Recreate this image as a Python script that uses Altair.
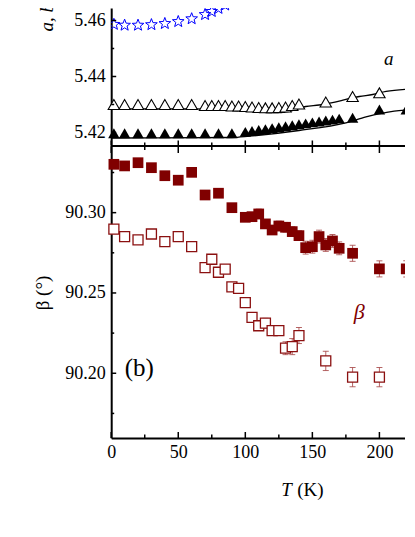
import math
import altair as alt
import pandas as pd

# ---------------- data ----------------
# top panel (lattice parameters)
T_STAR = [2, 10, 20, 30, 40, 50, 60, 70, 75, 80, 85, 90]
V_STAR = [5.4586, 5.4583, 5.4583, 5.4585, 5.4589, 5.4596, 5.4606, 5.4621, 5.4632, 5.4643, 5.4655, 5.4665]

T_OPEN_TRI = [2, 10, 20, 30, 40, 50, 60, 70, 75, 80, 85, 90, 95, 100, 105, 110, 115, 120, 125,
              130, 135, 140, 160, 180, 200]
V_OPEN_TRI = [5.4300, 5.4300, 5.4300, 5.4300, 5.4300, 5.4300, 5.4300, 5.42964, 5.42964, 5.42964,
              5.42964, 5.42946, 5.42946, 5.42929, 5.42911, 5.42893, 5.42882, 5.42882, 5.42893,
              5.42911, 5.42964, 5.43018, 5.43089, 5.43286, 5.43418]

T_FILL_TRI = [2, 10, 20, 30, 40, 50, 60, 70, 80, 90, 100, 105, 110, 115, 120, 125, 130, 135, 140,
              145, 150, 155, 160, 165, 170, 180, 200, 220]
V_FILL_TRI = [5.41975, 5.41975, 5.41975, 5.41975, 5.41975, 5.41975, 5.41975, 5.41975, 5.41975,
              5.41975, 5.42021, 5.42054, 5.42089, 5.42121, 5.42157, 5.42189, 5.42225, 5.42257,
              5.42293, 5.42325, 5.42361, 5.42393, 5.42429, 5.42461, 5.42496, 5.42525, 5.42821,
              5.42821]

T_FIT_OPEN = [0, 60, 90, 110, 125, 135, 145, 155, 165, 175, 185, 195, 205, 226]
V_FIT_OPEN = [5.42846, 5.42846, 5.42804, 5.42732, 5.42714, 5.42786, 5.42929, 5.42982, 5.43071,
              5.43179, 5.43286, 5.43357, 5.43471, 5.43561]

T_FIT_FILL = [0, 90, 103, 140, 175, 190, 211, 226]
V_FIT_FILL = [5.41804, 5.41821, 5.41868, 5.42071, 5.42346, 5.42554, 5.42761, 5.42821]

# bottom panel (beta angle)
T_SQ_FILL = [2, 10, 20, 30, 40, 50, 60, 70, 80, 90, 100, 105, 110, 115, 120, 125, 130, 135, 140,
             145, 150, 155, 160, 165, 170, 180, 200, 220]
V_SQ_FILL = [90.3301, 90.3291, 90.3311, 90.3280, 90.3230, 90.3202, 90.3251, 90.3110, 90.3121,
             90.3031, 90.2971, 90.2975, 90.2992, 90.2930, 90.2892, 90.2917, 90.2909, 90.2882,
             90.2857, 90.2782, 90.2788, 90.2851, 90.2799, 90.2824, 90.2778, 90.2747, 90.2650,
             90.2650]
E_SQ_FILL = [0, 0, 0, 0, 0, 0, 0, 0, 0, 0, 0.002, 0.002, 0.003, 0.002, 0.002, 0.003, 0.003, 0.003,
             0.003, 0.004, 0.004, 0.004, 0.004, 0.004, 0.004, 0.005, 0.005, 0.005]

T_SQ_OPEN = [2, 10, 20, 30, 40, 50, 60, 70, 75, 80, 85, 90, 95, 100, 105, 110, 115, 120, 125, 130,
             135, 140, 160, 180, 200]
V_SQ_OPEN = [90.2897, 90.2851, 90.2830, 90.2867, 90.2820, 90.2851, 90.2788, 90.2658, 90.2710,
             90.2629, 90.2648, 90.2538, 90.2528, 90.2440, 90.2348, 90.2296, 90.2312, 90.2266,
             90.2266, 90.2156, 90.2166, 90.2235, 90.2077, 90.1976, 90.1976]
E_SQ_OPEN = [0, 0, 0, 0, 0, 0, 0, 0, 0, 0, 0, 0, 0, 0, 0.002, 0.002, 0.003, 0.003, 0.003, 0.004,
             0.005, 0.005, 0.006, 0.006, 0.006]

# ticks / labels
X_MAJOR = [0, 50, 100, 150, 200]
X_MINOR = [25, 75, 125, 175]
Y_TOP_MAJOR = [5.42, 5.44, 5.46]
Y_TOP_MINOR = [5.43, 5.45]
Y_BOT_MAJOR = [90.20, 90.25, 90.30]
Y_BOT_MINOR = [90.175, 90.225, 90.275, 90.325]

ANN_TOP = [{"t": 207, "v": 5.4461, "lbl": "a"}]
ANN_BETA = [{"t": 185, "v": 90.2384, "lbl": "β"}]
ANN_B = [{"t": 21, "v": 90.2032, "lbl": "(b)"}]

# ---------------- layout constants ----------------
W = 295.3
H1 = 137.5
H2 = 292
XMAX = 220.2
TOP_DOM = [5.41536, 5.46446]
BOT_DOM = [90.1597, 90.3415]
FONT = "'Liberation Serif', 'Times New Roman', Times, 'DejaVu Serif', serif"
RED = "#800000"

# star path in [-1,1] space
pts = []
for k in range(10):
    r = 1.0 if k % 2 == 0 else 0.42
    a = math.radians(-90 + 36 * k)
    pts.append(f"{r*math.cos(a):.4f},{r*math.sin(a):.4f}")
STAR = "M" + "L".join(pts) + "Z"

xs = alt.Scale(domain=[0, XMAX], nice=False, zero=False)
ys1 = alt.Scale(domain=TOP_DOM, nice=False, zero=False)
ys2 = alt.Scale(domain=BOT_DOM, nice=False, zero=False)

AX1 = alt.Axis(orient="bottom", labels=False, ticks=False, domain=True, domainWidth=2,
               domainColor="black", title=None, grid=False)
AY1 = alt.Axis(values=Y_TOP_MAJOR, format=".2f", ticks=False, labelPadding=6, labelFont=FONT,
               labelFontSize=18, labelColor="black", labelFlush=False, domainWidth=2,
               domainColor="black", title=None, grid=False)
AX2 = alt.Axis(values=X_MAJOR, format="d", ticks=False, labelPadding=5, labelFont=FONT,
               labelFontSize=18, labelColor="black", labelFlush=False, domainWidth=2,
               domainColor="black", title=None, grid=False)
AY2 = alt.Axis(values=Y_BOT_MAJOR, format=".2f", ticks=False, labelPadding=6, labelFont=FONT,
               labelFontSize=18, labelColor="black", labelFlush=False, domainWidth=2,
               domainColor="black", title=None, grid=False)


def X1(f="t"):
    return alt.X(f"{f}:Q", scale=xs, axis=AX1)


def Y1(f="v"):
    return alt.Y(f"{f}:Q", scale=ys1, axis=AY1)


def X2(f="t"):
    return alt.X(f"{f}:Q", scale=xs, axis=AX2)


def Y2(f="v"):
    return alt.Y(f"{f}:Q", scale=ys2, axis=AY2)


def df(t, v, e=None):
    d = pd.DataFrame({"t": t, "v": v})
    if e is not None:
        d["e"] = e
        d["lo"] = d["v"] - d["e"]
        d["hi"] = d["v"] + d["e"]
    return d


one = pd.DataFrame({"k": [0]})

# ---------------- top panel ----------------
top_layers = [
    # invisible layout anchors (fix the chart's outer bounds)
    alt.Chart(one).mark_rule(color="white", opacity=0, strokeWidth=1).encode(
        x=alt.value(-90), x2=alt.value(-89), y=alt.value(-70)),
    alt.Chart(one).mark_rule(color="white", opacity=0, strokeWidth=1).encode(
        x=alt.value(W + 19), x2=alt.value(W + 20), y=alt.value(10)),
    alt.Chart(df(T_FIT_OPEN, V_FIT_OPEN)).mark_line(color="black", strokeWidth=1.3, clip=True,
                                                     interpolate="monotone").encode(x=X1(), y=Y1()),
    alt.Chart(df(T_FIT_FILL, V_FIT_FILL)).mark_line(color="black", strokeWidth=1.3, clip=True,
                                                     interpolate="monotone").encode(x=X1(), y=Y1()),
    alt.Chart(df(T_STAR, V_STAR)).mark_point(shape=STAR, size=150, filled=False, color="#0000ff",
                                             strokeWidth=1, opacity=1, clip=True).encode(x=X1(), y=Y1()),
    alt.Chart(df(T_OPEN_TRI, V_OPEN_TRI)).mark_point(shape="triangle-up", size=130, fill="white",
                                                     fillOpacity=1, stroke="black", strokeWidth=1.1,
                                                     opacity=1).encode(x=X1(), y=Y1()),
    alt.Chart(df(T_FILL_TRI, V_FILL_TRI)).mark_point(shape="triangle-up", size=130, filled=True,
                                                     color="black", opacity=1).encode(x=X1(), y=Y1()),
    # ticks
    alt.Chart(pd.DataFrame({"v": Y_TOP_MAJOR})).mark_rule(color="black", strokeWidth=1.5).encode(
        y=Y1(), x=alt.value(0), x2=alt.value(5)),
    alt.Chart(pd.DataFrame({"v": Y_TOP_MINOR})).mark_rule(color="black", strokeWidth=1.5).encode(
        y=Y1(), x=alt.value(0), x2=alt.value(3)),
    alt.Chart(pd.DataFrame({"t": X_MAJOR})).mark_rule(color="black", strokeWidth=1.5).encode(
        x=X1(), y=alt.value(H1), y2=alt.value(H1 - 5)),
    alt.Chart(pd.DataFrame({"t": X_MINOR})).mark_rule(color="black", strokeWidth=1.5).encode(
        x=X1(), y=alt.value(H1), y2=alt.value(H1 - 3)),
    # annotations
    alt.Chart(pd.DataFrame(ANN_TOP)).mark_text(font=FONT, fontSize=19, fontStyle="italic",
                                               color="black").encode(x=X1(), y=Y1(), text="lbl:N"),
    alt.Chart(one).mark_text(text="a, b, c (Å)", font=FONT, fontSize=19, fontStyle="italic",
                             angle=270, align="left", baseline="middle", color="black").encode(
        x=alt.value(-64), y=alt.value(23.5)),
]
top = alt.layer(*top_layers).properties(width=W, height=H1)

# ---------------- bottom panel ----------------
fill_err = df(T_SQ_FILL, V_SQ_FILL, E_SQ_FILL)
fill_err = fill_err[fill_err["e"] > 0]
open_err = df(T_SQ_OPEN, V_SQ_OPEN, E_SQ_OPEN)
open_err = open_err[open_err["e"] > 0]
ERRC = "#a84a4a"

bot_layers = []
for d in (fill_err, open_err):
    bot_layers.append(alt.Chart(d).mark_rule(color=ERRC, strokeWidth=1, opacity=0.85).encode(
        x=X2(), y=Y2("lo"), y2="hi:Q"))
    bot_layers.append(alt.Chart(d).mark_tick(orient="horizontal", size=6, thickness=1, color=ERRC,
                                             opacity=0.85).encode(x=X2(), y=Y2("lo")))
    bot_layers.append(alt.Chart(d).mark_tick(orient="horizontal", size=6, thickness=1, color=ERRC,
                                             opacity=0.85).encode(x=X2(), y=Y2("hi")))
bot_layers += [
    alt.Chart(df(T_SQ_OPEN, V_SQ_OPEN)).mark_point(shape="square", size=100, fill="white",
                                                   fillOpacity=1, stroke="#8b1010", strokeWidth=1.3,
                                                   opacity=1).encode(x=X2(), y=Y2()),
    alt.Chart(df(T_SQ_FILL, V_SQ_FILL)).mark_point(shape="square", size=115, filled=True,
                                                   color=RED, opacity=1).encode(x=X2(), y=Y2()),
    # ticks
    alt.Chart(pd.DataFrame({"v": Y_BOT_MAJOR})).mark_rule(color="black", strokeWidth=1.5).encode(
        y=Y2(), x=alt.value(0), x2=alt.value(5)),
    alt.Chart(pd.DataFrame({"v": Y_BOT_MINOR})).mark_rule(color="black", strokeWidth=1.5).encode(
        y=Y2(), x=alt.value(0), x2=alt.value(3)),
    alt.Chart(pd.DataFrame({"t": X_MAJOR})).mark_rule(color="black", strokeWidth=1.5).encode(
        x=X2(), y=alt.value(H2), y2=alt.value(H2 - 6)),
    alt.Chart(pd.DataFrame({"t": X_MINOR})).mark_rule(color="black", strokeWidth=1.5).encode(
        x=X2(), y=alt.value(H2), y2=alt.value(H2 - 3.5)),
    alt.Chart(pd.DataFrame({"t": X_MAJOR})).mark_rule(color="black", strokeWidth=1.5).encode(
        x=X2(), y=alt.value(0), y2=alt.value(7)),
    alt.Chart(pd.DataFrame({"t": X_MINOR})).mark_rule(color="black", strokeWidth=1.5).encode(
        x=X2(), y=alt.value(0), y2=alt.value(4)),
    # annotations
    alt.Chart(pd.DataFrame(ANN_BETA)).mark_text(font=FONT, fontSize=22, fontStyle="italic",
                                                color=RED).encode(x=X2(), y=Y2(), text="lbl:N"),
    alt.Chart(pd.DataFrame(ANN_B)).mark_text(font=FONT, fontSize=25, color="black").encode(
        x=X2(), y=Y2(), text="lbl:N"),
    alt.Chart(one).mark_text(text="β (°)", font=FONT, fontSize=19, angle=270, align="center",
                             baseline="middle", color="black").encode(
        x=alt.value(-68), y=alt.value(147)),
    alt.Chart(one).mark_text(text="T", font=FONT, fontSize=19, fontStyle="italic", align="left",
                             baseline="middle", color="black").encode(
        x=alt.value(170), y=alt.value(344)),
    alt.Chart(one).mark_text(text="(K)", font=FONT, fontSize=19, align="left",
                             baseline="middle", color="black").encode(
        x=alt.value(186), y=alt.value(344)),
]
bot = alt.layer(*bot_layers).properties(width=W, height=H2)

# left anchor at -90.5, right anchor at W+20.5 -> bounds width = W + 111
PAD_L = 13.2
PAD_R = 398 - (W + 111) - PAD_L
chart = alt.vconcat(top, bot, spacing=0, bounds="flush").properties(
    padding={"left": PAD_L, "top": -70, "right": PAD_R, "bottom": 12}
).configure_view(stroke=None)

chart.save("out.html", embed_options={"renderer": "svg", "actions": False})
